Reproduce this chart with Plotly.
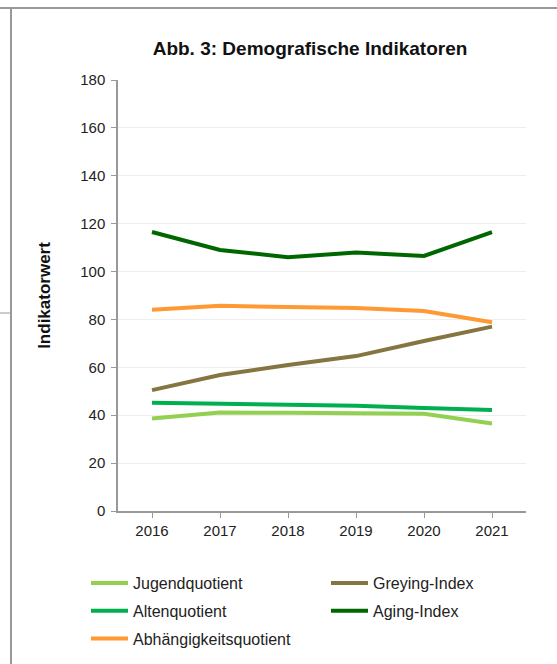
import plotly.graph_objects as go

years = ["2016", "2017", "2018", "2019", "2020", "2021"]
jugendquotient = [38.6, 41.1, 41.0, 40.6, 40.6, 36.5]
altenquotient = [45.2, 44.7, 44.1, 44.0, 43.0, 42.2]
abhaengigkeitsquotient = [84.0, 85.7, 85.2, 84.8, 83.5, 78.8]
greying_index = [50.5, 56.8, 61.0, 64.7, 71.0, 77.0]
aging_index = [116.5, 109.0, 106.0, 108.0, 106.5, 116.5]
y_ticks = [0, 20, 40, 60, 80, 100, 120, 140, 160, 180]

series = [
    ("Jugendquotient", jugendquotient, "#92D050", "legend"),
    ("Greying-Index", greying_index, "#857540", "legend2"),
    ("Altenquotient", altenquotient, "#00B050", "legend"),
    ("Aging-Index", aging_index, "#006600", "legend2"),
    ("Abhängigkeitsquotient", abhaengigkeitsquotient, "#FF9933", "legend"),
]

W, H = 557, 664
ml, mr, mt, mb = 118, 31, 80, 153
pw, ph = W - ml - mr, H - mt - mb


def px(x):
    return (x - ml) / pw


def py(y):
    return (H - mb - y) / ph


fig = go.Figure()
for name, vals, col, lg in series:
    fig.add_trace(go.Scatter(x=years, y=vals, name=name, mode="lines",
                             legend=lg, legendgroup=name,
                             line=dict(color=col, width=4)))

font = "Liberation Sans, Arial, sans-serif"
legend_common = dict(orientation="v", xanchor="left", yanchor="top",
                     tracegroupgap=4, itemwidth=37,
                     bgcolor="rgba(0,0,0,0)",
                     font=dict(size=16, color="#222222"))
fig.update_layout(
    width=W, height=H,
    margin=dict(l=ml, r=mr, t=mt, b=mb, autoexpand=False),
    paper_bgcolor="white", plot_bgcolor="white",
    font=dict(family=font, size=15, color="#222222"),
    title=dict(text="<b>Abb. 3: Demografische Indikatoren</b>",
               x=310 / W, xanchor="center", y=1 - 48 / H, yanchor="middle",
               font=dict(size=19, color="#111111")),
    xaxis=dict(type="category", range=[-0.5, 5.5], showgrid=False,
               showline=True, linecolor="#999999", linewidth=1.5,
               ticks="outside", ticklen=5, tickcolor="#999999",
               tickfont=dict(size=15, color="#222222")),
    yaxis=dict(range=[0, 180], tickvals=y_ticks, showgrid=True,
               gridcolor="#EEEEEE", gridwidth=1, zeroline=False,
               showline=True, linecolor="#999999", linewidth=1.5,
               ticks="outside", ticklen=5, tickcolor="#999999",
               ticklabelstandoff=3,
               tickfont=dict(size=15, color="#222222"),
               title=dict(text="<b>Indikatorwert</b>", standoff=25,
                          font=dict(size=17, color="#111111"))),
    legend=dict(x=px(86), y=py(566), **legend_common),
    legend2=dict(x=px(326), y=py(566), **legend_common),
    showlegend=True,
)

line_style = dict(color="#999999", width=2)
fig.add_shape(type="line", xref="paper", yref="paper", x0=px(0), x1=px(557),
              y0=py(8), y1=py(8), line=line_style)
fig.add_shape(type="line", xref="paper", yref="paper", x0=px(11), x1=px(11),
              y0=py(8), y1=py(664), line=line_style)
fig.add_shape(type="line", xref="paper", yref="paper", x0=px(0), x1=px(11),
              y0=py(313), y1=py(313), line=dict(color="#999999", width=1))

fig.write_html("out.html", config={"displayModeBar": False},
               post_script="document.body.style.margin='0';document.body.style.overflow='hidden';")
